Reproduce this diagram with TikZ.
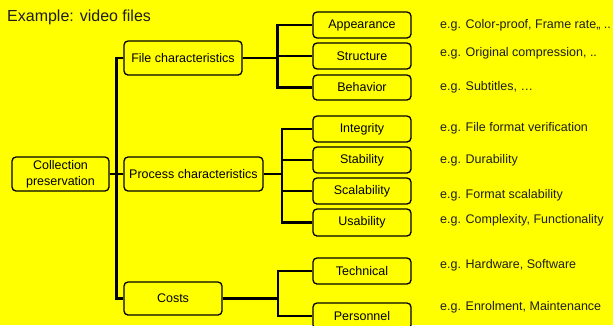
\documentclass[tikz,border=0pt]{standalone}
\usepackage{fontspec}
\setmainfont{Liberation Sans}
\definecolor{bgyellow}{RGB}{255,255,0}
\definecolor{txtgray}{RGB}{30,30,30}
\begin{document}
\begin{tikzpicture}[x=1pt,y=-1pt,
  box/.style={draw=black,line width=1.3pt,rounded corners=4pt,fill=bgyellow,inner sep=0pt,align=center,font=\fontsize{12.5}{16}\selectfont},
  leaf/.style={box,minimum width=98pt,minimum height=26pt},
  conn/.style={line width=2.4pt},
  note/.style={anchor=west,inner sep=0pt,text=txtgray,font=\fontsize{12.5}{15}\selectfont}]
\fill[bgyellow] (0,0) rectangle (613,325);
\useasboundingbox (0,0) rectangle (613,325);
\node[anchor=west,inner sep=0pt,font=\fontsize{16}{19}\selectfont,text=txtgray] (title) at (7,17) {Example: video files};
% main boxes
\node[box,minimum width=97pt,minimum height=34pt] (cp) at (60.5,174) {Collection\\preservation};
\node[box,minimum width=118pt,minimum height=34pt] (fc) at (183,58) {File characteristics};
\node[box,minimum width=139pt,minimum height=34pt] (pc) at (193.5,174) {Process characteristics};
\node[box,minimum width=98pt,minimum height=33pt] (co) at (173,298.5) {Costs};
% leaves
\node[leaf] (app) at (362,25) {Appearance};
\node[leaf] (str) at (362,56) {Structure};
\node[leaf,minimum height=25pt] (beh) at (362,87.5) {Behavior};
\node[leaf] (int) at (362,129) {Integrity};
\node[leaf] (sta) at (362,160) {Stability};
\node[leaf] (sca) at (362,191) {Scalability};
\node[leaf,minimum height=27pt] (usa) at (362,222.5) {Usability};
\node[leaf] (tec) at (362,271) {Technical};
\node[leaf] (per) at (362,316) {Personnel};
% notes
\node[note] (n1) at (440,25) {e.g. Color-proof, Frame rate,, ..};
\node[note] (n2) at (440,53) {e.g. Original compression, ..};
\node[note] (n3) at (440,87) {e.g. Subtitles, …};
\node[note] (n4) at (440,128) {e.g. File format verification};
\node[note] (n5) at (440,160) {e.g. Durability};
\node[note] (n6) at (440,195) {e.g. Format scalability};
\node[note] (n7) at (440,220) {e.g. Complexity, Functionality};
\node[note] (n8) at (440,265) {e.g. Hardware, Software};
\node[note] (n9) at (440,307) {e.g. Enrolment, Maintenance};
% connector coordinates
\coordinate (t) at (116.5,0);
\coordinate (b1) at (277.5,0);
\coordinate (b2) at (282,0);
\coordinate (b3) at (278,0);
% trunk
\draw[conn] (cp.east) -- (pc.west);
\draw[conn] (fc.west) -- (fc.west -| t) -- (co.west -| t) -- (co.west);
% group 1
\draw[conn] (fc.east) -- (fc.east -| b1);
\draw[conn] (app.west) -- (app.west -| b1) -- (beh.west -| b1) -- (beh.west);
\draw[conn] (str.west) -- (str.west -| b1);
% group 2
\draw[conn] (pc.east) -- (pc.east -| b2);
\draw[conn] (int.west) -- (int.west -| b2) -- (usa.west -| b2) -- (usa.west);
\draw[conn] (sta.west) -- (sta.west -| b2);
\draw[conn] (sca.west) -- (sca.west -| b2);
% group 3
\draw[conn] (co.east) -- (co.east -| b3);
\draw[conn] (tec.west) -- (tec.west -| b3) -- (per.west -| b3) -- (per.west);
\end{tikzpicture}
\end{document}
